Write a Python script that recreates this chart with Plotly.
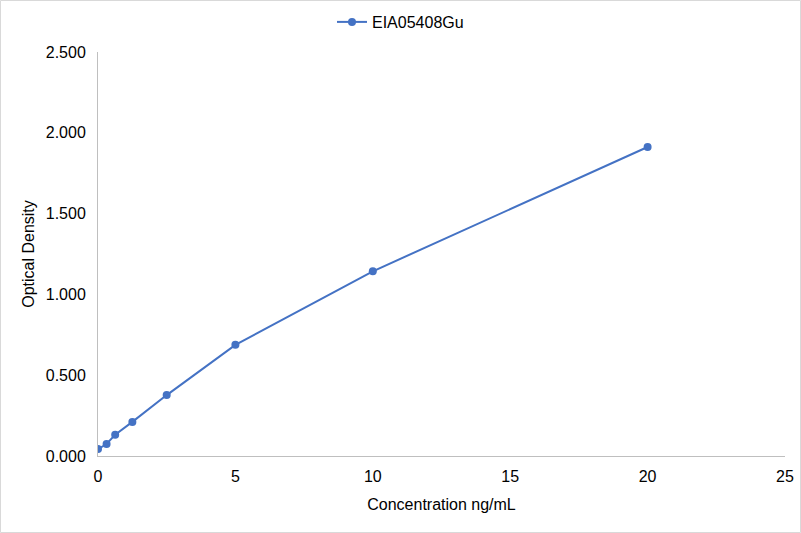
import plotly.graph_objects as go

concentration = [0, 0.3125, 0.625, 1.25, 2.5, 5, 10, 20]
optical_density = [0.043, 0.074, 0.132, 0.211, 0.377, 0.688, 1.143, 1.912]
series_name = "EIA05408Gu"

x_ticks = [0, 5, 10, 15, 20, 25]
y_ticks = [0, 0.5, 1.0, 1.5, 2.0, 2.5]
y_labels = ["0.000", "0.500", "1.000", "1.500", "2.000", "2.500"]

color = "#4472C4"
font = "Liberation Sans, Arial, sans-serif"

fig = go.Figure()
fig.add_trace(go.Scatter(
    x=concentration, y=optical_density,
    mode="lines+markers", name=series_name,
    line=dict(color=color, width=2),
    marker=dict(color=color, size=8),
))

fig.update_layout(
    width=801, height=533,
    paper_bgcolor="white", plot_bgcolor="white",
    font=dict(family=font, size=16, color="#000000"),
    margin=dict(l=98, r=16, t=52, b=77, autoexpand=False),
    showlegend=True,
    legend=dict(orientation="h", x=0.5, xanchor="center", xref="container",
                y=1 - 22 / 533, yanchor="middle", yref="container", font=dict(size=16)),
    xaxis=dict(range=[0, 25], tickvals=x_ticks, showgrid=False,
               zeroline=False, showline=True, linecolor="#BFBFBF", linewidth=1,
               ticks="", ticklabelstandoff=6,
               title=dict(text="Concentration ng/mL", font=dict(size=16), standoff=14)),
    yaxis=dict(range=[0, 2.5], tickvals=y_ticks, ticktext=y_labels, showgrid=False,
               zeroline=False, showline=True, linecolor="#BFBFBF", linewidth=1,
               ticks="", ticklabelstandoff=8,
               title=dict(text="Optical Density", font=dict(size=16), standoff=7)),
    shapes=[dict(type="rect", xref="paper", yref="paper",
                 x0=(0.5 - 98) / 687, x1=(800.5 - 98) / 687,
                 y0=(456 - 532.5) / 404, y1=(456 - 0.5) / 404,
                 line=dict(color="#D9D9D9", width=1))],
)

fig.write_html("out.html", config={"displayModeBar": False},
               post_script="document.body.style.margin='0px';")
